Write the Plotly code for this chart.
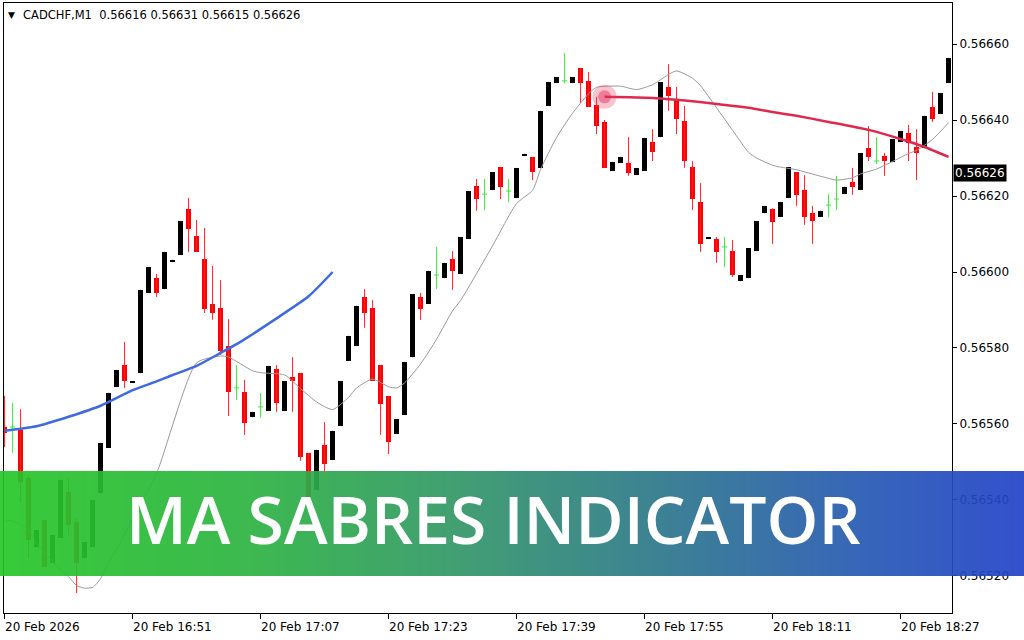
import base64
import struct
import zlib

import plotly.graph_objects as go

# CADCHF M1, one bar per minute from 16:35
opens = [
    0.565592, 0.565592, 0.565584, 0.565458, 0.565276, 0.565347, 0.565234, 0.565300, 0.565421, 0.565342,
    0.565247, 0.565276, 0.565418, 0.565537, 0.565697, 0.565755, 0.565708, 0.565734, 0.565945, 0.565984,
    0.565955, 0.566026, 0.566045, 0.566166, 0.566095, 0.566034, 0.565916, 0.565905, 0.565805, 0.565695,
    0.565684, 0.565618, 0.565645, 0.565634, 0.565745, 0.565634, 0.565724, 0.565734, 0.565524, 0.565426,
    0.565545, 0.565505, 0.565595, 0.565766, 0.565805, 0.565934, 0.565905, 0.565755, 0.565674, 0.565574,
    0.565624, 0.565776, 0.565934, 0.565916, 0.565992, 0.565984, 0.566034, 0.565995, 0.566087, 0.566226,
    0.566205, 0.566216, 0.566276, 0.566213, 0.566195, 0.566305, 0.566303, 0.566274, 0.566437, 0.566497,
    0.566503, 0.566497, 0.566537, 0.566503, 0.566439, 0.566395, 0.566266, 0.566287, 0.566287, 0.566255,
    0.566266, 0.566342, 0.566355, 0.566487, 0.566453, 0.566397, 0.566276, 0.566184, 0.566087, 0.566087,
    0.566066, 0.566055, 0.565976, 0.565984, 0.566055, 0.566155, 0.566166, 0.566145, 0.566195, 0.566263,
    0.566216, 0.566155, 0.566145, 0.566176, 0.566192, 0.566205, 0.566237, 0.566216, 0.566326, 0.566292,
    0.566305, 0.566289, 0.566342, 0.566366, 0.566329, 0.566326, 0.566434, 0.566416, 0.566497,
]
highs = [
    0.565674, 0.565655, 0.565639, 0.565466, 0.565321, 0.565347, 0.565308, 0.565453, 0.565458, 0.565353,
    0.565289, 0.565400, 0.565550, 0.565682, 0.565742, 0.565816, 0.565713, 0.565953, 0.566013, 0.565995,
    0.566053, 0.566032, 0.566134, 0.566195, 0.566137, 0.566116, 0.566016, 0.565979, 0.565876, 0.565755,
    0.565716, 0.565632, 0.565682, 0.565753, 0.565755, 0.565713, 0.565776, 0.565734, 0.565524, 0.565532,
    0.565605, 0.565582, 0.565713, 0.565832, 0.565911, 0.565955, 0.565926, 0.565755, 0.565674, 0.565613,
    0.565763, 0.565942, 0.565945, 0.566003, 0.566066, 0.566024, 0.566055, 0.566092, 0.566213, 0.566245,
    0.566245, 0.566263, 0.566276, 0.566245, 0.566274, 0.566311, 0.566303, 0.566424, 0.566500, 0.566513,
    0.566576, 0.566513, 0.566537, 0.566526, 0.566461, 0.566400, 0.566289, 0.566303, 0.566355, 0.566274,
    0.566353, 0.566376, 0.566500, 0.566547, 0.566487, 0.566437, 0.566292, 0.566234, 0.566092, 0.566092,
    0.566092, 0.566084, 0.565992, 0.566063, 0.566134, 0.566174, 0.566168, 0.566184, 0.566276, 0.566263,
    0.566255, 0.566174, 0.566161, 0.566205, 0.566253, 0.566224, 0.566274, 0.566313, 0.566384, 0.566355,
    0.566313, 0.566350, 0.566371, 0.566387, 0.566376, 0.566411, 0.566474, 0.566471, 0.566563,
]
lows = [
    0.565539, 0.565524, 0.565395, 0.565247, 0.565276, 0.565224, 0.565234, 0.565300, 0.565308, 0.565155,
    0.565247, 0.565276, 0.565418, 0.565537, 0.565697, 0.565695, 0.565708, 0.565734, 0.565945, 0.565934,
    0.565955, 0.566026, 0.566045, 0.566053, 0.566053, 0.565892, 0.565874, 0.565782, 0.565621, 0.565663,
    0.565571, 0.565618, 0.565616, 0.565634, 0.565632, 0.565634, 0.565632, 0.565503, 0.565397, 0.565426,
    0.565474, 0.565505, 0.565595, 0.565766, 0.565805, 0.565853, 0.565713, 0.565571, 0.565521, 0.565574,
    0.565624, 0.565776, 0.565874, 0.565916, 0.565955, 0.565984, 0.565953, 0.565995, 0.566087, 0.566161,
    0.566163, 0.566216, 0.566192, 0.566184, 0.566195, 0.566305, 0.566242, 0.566274, 0.566437, 0.566497,
    0.566497, 0.566497, 0.566445, 0.566434, 0.566363, 0.566274, 0.566266, 0.566287, 0.566253, 0.566255,
    0.566266, 0.566292, 0.566355, 0.566424, 0.566363, 0.566274, 0.566163, 0.566053, 0.566087, 0.566024,
    0.566013, 0.565987, 0.565976, 0.565984, 0.566055, 0.566155, 0.566074, 0.566145, 0.566195, 0.566174,
    0.566124, 0.566074, 0.566145, 0.566145, 0.566163, 0.566205, 0.566203, 0.566216, 0.566292, 0.566284,
    0.566253, 0.566289, 0.566342, 0.566292, 0.566242, 0.566326, 0.566395, 0.566416, 0.566497,
]
closes = [
    0.565576, 0.565592, 0.565447, 0.565295, 0.565321, 0.565224, 0.565308, 0.565453, 0.565334, 0.565234,
    0.565289, 0.565400, 0.565550, 0.565682, 0.565742, 0.565713, 0.565713, 0.565953, 0.566013, 0.565945,
    0.566053, 0.566032, 0.566134, 0.566113, 0.566053, 0.565903, 0.565892, 0.565792, 0.565684, 0.565695,
    0.565603, 0.565632, 0.565645, 0.565753, 0.565655, 0.565713, 0.565713, 0.565513, 0.565405, 0.565532,
    0.565495, 0.565582, 0.565713, 0.565832, 0.565911, 0.565892, 0.565713, 0.565653, 0.565553, 0.565613,
    0.565763, 0.565942, 0.565903, 0.566003, 0.565992, 0.566024, 0.566003, 0.566092, 0.566213, 0.566192,
    0.566205, 0.566263, 0.566224, 0.566213, 0.566274, 0.566311, 0.566263, 0.566424, 0.566500, 0.566513,
    0.566503, 0.566513, 0.566497, 0.566434, 0.566384, 0.566274, 0.566289, 0.566303, 0.566261, 0.566274,
    0.566353, 0.566316, 0.566500, 0.566463, 0.566403, 0.566292, 0.566192, 0.566074, 0.566092, 0.566053,
    0.566066, 0.565992, 0.565992, 0.566063, 0.566134, 0.566174, 0.566132, 0.566184, 0.566276, 0.566203,
    0.566145, 0.566134, 0.566161, 0.566176, 0.566192, 0.566224, 0.566224, 0.566313, 0.566303, 0.566292,
    0.566292, 0.566350, 0.566371, 0.566339, 0.566313, 0.566411, 0.566403, 0.566471, 0.566563,
]

# thin grey MA (bar index, value)
ma_fast_bar = [0, 1, 3, 4, 7, 8, 9, 10, 11, 12, 13, 14, 16, 19, 24, 27, 28, 31, 32, 35, 37, 39, 41, 43,
               44, 46, 48, 49, 50, 52, 54, 56, 57, 61, 64, 66, 67, 69, 71, 73, 74, 77, 79, 81, 82, 83,
               84, 86, 87, 89, 91, 93, 94, 96, 97, 99, 102, 104, 106, 107, 109, 111, 113, 114, 116, 118]
ma_fast_val = [
    0.565345, 0.565345, 0.565321, 0.565285, 0.565216, 0.565198, 0.565175, 0.565168, 0.565170, 0.565193,
    0.565235, 0.565270, 0.565350, 0.565470, 0.565761, 0.565779, 0.565776, 0.565740, 0.565735, 0.565729,
    0.565693, 0.565658, 0.565638, 0.565670, 0.565695, 0.565718, 0.565698, 0.565695, 0.565708, 0.565758,
    0.565823, 0.565898, 0.565925, 0.566069, 0.566180, 0.566215, 0.566270, 0.566354, 0.566418, 0.566469,
    0.566486, 0.566489, 0.566480, 0.566493, 0.566506, 0.566520, 0.566529, 0.566510, 0.566490, 0.566432,
    0.566373, 0.566315, 0.566300, 0.566281, 0.566276, 0.566269, 0.566252, 0.566242, 0.566248, 0.566258,
    0.566271, 0.566291, 0.566312, 0.566320, 0.566349, 0.566393,
]

# blue sabre (rising) and red sabre (falling)
sabre_up_bar = [0, 4, 8, 12, 16, 19, 21, 24, 27, 29, 34, 38, 41]
sabre_up_val = [0.565582, 0.565594, 0.565619, 0.565648, 0.565689, 0.565712, 0.565729, 0.565753,
                0.565787, 0.565810, 0.565878, 0.565936, 0.566000]
sabre_dn_bar = [75, 81, 84, 88, 93, 96, 99, 103, 108, 112, 115, 118]
sabre_dn_val = [0.566461, 0.566458, 0.566453, 0.566445, 0.566432, 0.566421, 0.566411, 0.566395,
                0.566374, 0.566350, 0.566329, 0.566303]

tick_bars = [0, 16, 32, 48, 64, 80, 96, 112]
tick_text = ["20 Feb 2026", "20 Feb 16:51", "20 Feb 17:07", "20 Feb 17:23",
             "20 Feb 17:39", "20 Feb 17:55", "20 Feb 18:11", "20 Feb 18:27"]
price_ticks = [0.5652, 0.5654, 0.5656, 0.5658, 0.5660, 0.5662, 0.5664, 0.5666]
header = "CADCHF,M1  0.56616 0.56631 0.56615 0.56626"
last_price = 0.56626
banner_text = "MA SABRES INDICATOR"

W, H = 1024, 640
L_M, R_M, T_M, B_M = 4, 72, 3, 27
PW, PH = W - L_M - R_M, H - T_M - B_M


def px_x(px):
    return (px - L_M) / PW


def px_y(py):
    return (H - B_M - py) / PH


def gradient_png(stops, alpha, width=256):
    row = b"\x00"
    for k in range(width):
        t = k / (width - 1)
        for (t0, c0), (t1, c1) in zip(stops[:-1], stops[1:]):
            if t0 <= t <= t1:
                f = (t - t0) / (t1 - t0)
                rgb = [round(a + (b - a) * f) for a, b in zip(c0, c1)]
                break
        row += bytes(rgb + [alpha])

    def chunk(tag, data):
        return (struct.pack(">I", len(data)) + tag + data
                + struct.pack(">I", zlib.crc32(tag + data) & 0xFFFFFFFF))

    png = b"\x89PNG\r\n\x1a\n"
    png += chunk(b"IHDR", struct.pack(">IIBBBBB", width, 2, 8, 6, 0, 0, 0))
    png += chunk(b"IDAT", zlib.compress(row * 2))
    png += chunk(b"IEND", b"")
    return "data:image/png;base64," + base64.b64encode(png).decode()


bars = list(range(len(opens)))
up = [i for i in bars if closes[i] > opens[i]]
down = [i for i in bars if closes[i] < opens[i]]
doji = [i for i in bars if closes[i] == opens[i]]

fig = go.Figure()


def wicks(idx):
    xs, ys = [], []
    for i in idx:
        xs += [i, i, None]
        ys += [lows[i], highs[i], None]
    return xs, ys


# red candles
wx, wy = wicks(down)
fig.add_trace(go.Scatter(x=wx, y=wy, mode="lines", line=dict(color="#ff2020", width=1)))
fig.add_trace(go.Bar(x=down, base=[closes[i] for i in down],
                     y=[opens[i] - closes[i] for i in down], width=0.62,
                     marker=dict(color="#ff0000", line=dict(width=0))))
# black candles
wx, wy = wicks(up)
fig.add_trace(go.Scatter(x=wx, y=wy, mode="lines", line=dict(color="#000000", width=1)))
fig.add_trace(go.Bar(x=up, base=[opens[i] for i in up],
                     y=[closes[i] - opens[i] for i in up], width=0.62,
                     marker=dict(color="#000000", line=dict(width=0))))
# doji (line colour)
dx, dy = wicks(doji)
for i in doji:
    dx += [i - 0.32, i + 0.32, None]
    dy += [opens[i], opens[i], None]
fig.add_trace(go.Scatter(x=dx, y=dy, mode="lines", line=dict(color="#33ee33", width=1)))

# moving averages
fig.add_trace(go.Scatter(x=ma_fast_bar, y=ma_fast_val, mode="lines",
                         line=dict(color="#9a9a9a", width=1, shape="spline", smoothing=0.6)))
fig.add_trace(go.Scatter(x=sabre_up_bar, y=sabre_up_val, mode="lines",
                         line=dict(color="#4169e1", width=2.5, shape="spline", smoothing=0.6)))
fig.add_trace(go.Scatter(x=sabre_dn_bar, y=sabre_dn_val, mode="lines",
                         line=dict(color="#e0284f", width=2.5, shape="spline", smoothing=0.6)))
fig.add_trace(go.Scatter(x=sabre_dn_bar[:1], y=sabre_dn_val[:1], mode="markers",
                         marker=dict(size=24, color="rgba(230,60,100,0.30)", line=dict(width=0))))
fig.add_trace(go.Scatter(x=sabre_dn_bar[:1], y=sabre_dn_val[:1], mode="markers",
                         marker=dict(size=13, color="rgba(225,40,85,0.45)", line=dict(width=0))))

annotations = []
for b, t in zip(tick_bars, tick_text):
    annotations.append(dict(x=b, xref="x", y=0, yref="paper", text=t, showarrow=False,
                            xanchor="left", yanchor="top", yshift=-5, xshift=-2,
                            font=dict(family="DejaVu Sans", size=12, color="#000000")))
annotations.append(dict(x=px_x(11), y=px_y(15), xref="paper", yref="paper", text="▼",
                        showarrow=False, xanchor="center", yanchor="middle",
                        font=dict(family="DejaVu Sans", size=9, color="#000")))
annotations.append(dict(x=px_x(21), y=px_y(15), xref="paper", yref="paper", text=header,
                        showarrow=False, xanchor="left", yanchor="middle",
                        font=dict(family="DejaVu Sans", size=11.5, color="#000")))
annotations.append(dict(x=1, xref="paper", y=last_price, yref="y", text="%.5f" % last_price,
                        showarrow=False, xanchor="left", yanchor="middle", xshift=1,
                        bgcolor="#000000", borderpad=1,
                        font=dict(family="DejaVu Sans", size=12, color="#ffffff")))
annotations.append(dict(x=px_x(493), y=px_y(518), xref="paper", yref="paper", text=banner_text,
                        showarrow=False, xanchor="center", yanchor="middle",
                        font=dict(family="Open Sans", size=66, color="#ffffff", weight=600)))

banner = gradient_png([(0.0, (38, 198, 40)), (0.25, (44, 178, 66)), (0.45, (50, 150, 104)),
                       (0.65, (44, 118, 140)), (0.85, (38, 88, 180)), (1.0, (34, 66, 200))], 235)

fig.update_layout(
    width=W, height=H,
    margin=dict(l=L_M, r=R_M, t=T_M, b=B_M, pad=0),
    paper_bgcolor="#ffffff", plot_bgcolor="#ffffff",
    showlegend=False, barmode="overlay", bargap=0, hovermode=False,
    annotations=annotations,
    images=[dict(source=banner, xref="paper", yref="paper", x=px_x(0), y=px_y(471),
                 sizex=W / PW, sizey=(576 - 471) / PH, sizing="stretch",
                 xanchor="left", yanchor="top", layer="above")],
)
fig.update_xaxes(range=[-0.075, 118.43], showgrid=False, zeroline=False, showline=True,
                 linecolor="#000000", linewidth=1, mirror=True, ticks="outside", ticklen=5,
                 tickcolor="#000000", tickvals=tick_bars, showticklabels=False)
fig.update_yaxes(range=[0.5651026, 0.5667079], side="right", showgrid=False, zeroline=False,
                 showline=True, linecolor="#000000", linewidth=1, mirror=True, ticks="outside",
                 ticklen=4, tickcolor="#000000", tickvals=price_ticks, tickformat=".5f",
                 tickfont=dict(family="DejaVu Sans", size=12, color="#000000"))

fig.write_html("out.html", config={"displayModeBar": False, "staticPlot": True},
               post_script="document.body.style.margin='0';")
